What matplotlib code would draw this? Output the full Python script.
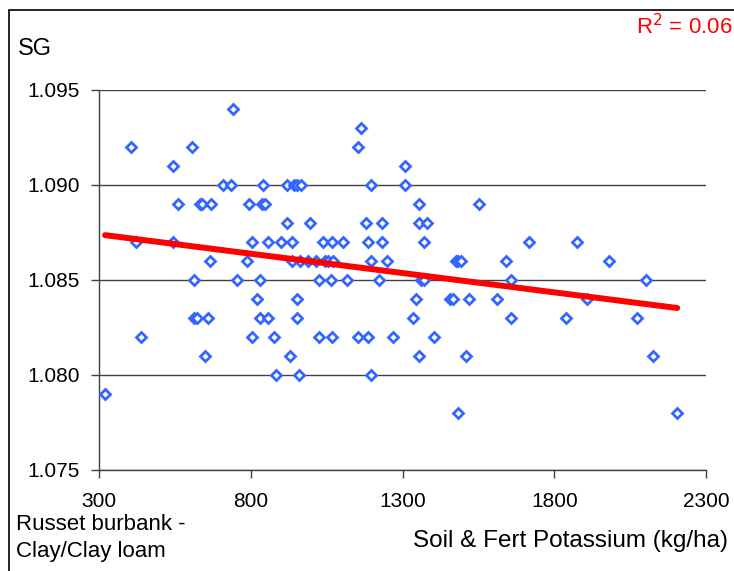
#Scatter of tuber specific gravity against soil + fertiliser potassium, with linear trend

import numpy as np
import matplotlib
matplotlib.use('Agg')
import matplotlib.pyplot as plt
from matplotlib.patches import Rectangle

plt.rcParams['font.family'] = ['Liberation Sans', 'DejaVu Sans']

# potassium (kg/ha) and SG, grouped by SG level
potassium = [
    742,
    1162,
    404, 606, 1152,
    545, 1309,
    708, 735, 841, 918, 944, 952, 964, 1196, 1309,
    561, 633, 639, 668, 795, 838, 848, 1353, 1553,
    918, 996, 1180, 1231, 1353, 1379,
    422, 545, 805, 858, 901, 936, 1039, 1066, 1103, 1187, 1231, 1371, 1718, 1875,
    666, 787, 935, 961, 988, 1016, 1044, 1055, 1070, 1196, 1248, 1476, 1484, 1492, 1641, 1979,
    614, 753, 831, 1024, 1065, 1118, 1222, 1360, 1370, 1657, 2101,
    822, 951, 1343, 1457, 1465, 1519, 1612, 1909,
    613, 622, 659, 830, 858, 951, 1336, 1657, 1839, 2074,
    439, 805, 876, 1024, 1066, 1152, 1187, 1267, 1405,
    649, 928, 1353, 1510, 2126,
    883, 960, 1196,
    320,
    1484, 2205,
]
sg = (
    [1.094] * 1 + [1.093] * 1 + [1.092] * 3 + [1.091] * 2 + [1.090] * 9
    + [1.089] * 9 + [1.088] * 6 + [1.087] * 14 + [1.086] * 16 + [1.085] * 11
    + [1.084] * 8 + [1.083] * 10 + [1.082] * 9 + [1.081] * 5 + [1.080] * 3
    + [1.079] * 1 + [1.078] * 2
)

x_ticks = [300, 800, 1300, 1800, 2300]
y_ticks = [1.075, 1.080, 1.085, 1.090, 1.095]
r2_label = 'R$^2$ = 0.06'

x = np.array(potassium, dtype=float)
y = np.array(sg)

# least squares trend over the data range
slope, intercept = np.polyfit(x, y, 1)
xfit = np.array([x.min(), x.max()])
yfit = slope * xfit + intercept

fig = plt.figure(figsize=(7.34, 5.71), dpi=100)
ax = fig.add_axes([0.1349, 0.1769, 0.8270, 0.6655])

for t in y_ticks:
    ax.axhline(t, color='#404040', lw=1.0, zorder=1)

ax.plot(x, y, linestyle='none', marker='D', ms=5.0, mfc='white',
        mec='#3366FF', mew=2.0, zorder=3)
ax.plot(xfit, yfit, color='#FF0000', lw=4.3, solid_capstyle='round', zorder=4)

ax.set_xlim(300, 2300)
ax.set_ylim(1.075, 1.095)
ax.set_xticks(x_ticks)
ax.set_yticks(y_ticks)
ax.set_xticklabels([str(t) for t in x_ticks])
ax.set_yticklabels(['%.3f' % t for t in y_ticks])
ax.tick_params(axis='both', labelsize=15, colors='#404040', labelcolor='black',
               length=6, width=1.0, direction='out')
ax.tick_params(axis='x', pad=10)
ax.tick_params(axis='y', pad=8)

for side in ['top', 'right']:
    ax.spines[side].set_visible(False)
for side in ['left', 'bottom']:
    ax.spines[side].set_color('#404040')
    ax.spines[side].set_linewidth(1.0)

fig.text(18 / 734, 1 - 49 / 571, 'SG', fontsize=17, va='center', ha='left')
fig.text(732 / 734, 1 - 27 / 571, r2_label, fontsize=16, color='#FF0000',
         va='center', ha='right')
fig.text(16 / 734, 1 - 525 / 571, 'Russet burbank -', fontsize=16, va='center', ha='left')
fig.text(16 / 734, 1 - 552 / 571, 'Clay/Clay loam', fontsize=16, va='center', ha='left')
fig.text(728 / 734, 1 - 541 / 571, 'Soil & Fert Potassium (kg/ha)', fontsize=17.5,
         va='center', ha='right')

# outer chart frame
fig.patches.append(Rectangle((9 / 734, -0.1), 1.2, 1.1 - 10 / 571,
                             transform=fig.transFigure, fill=False,
                             edgecolor='black', lw=1.2))

fig.savefig('out.png', dpi=100)
